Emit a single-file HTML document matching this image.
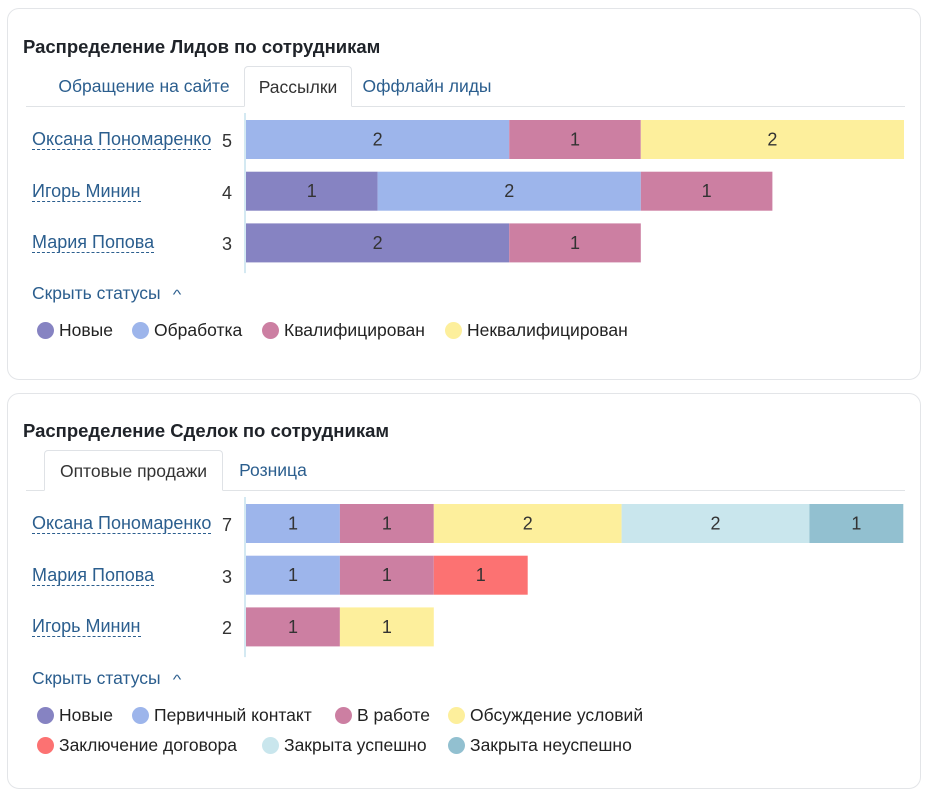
<!DOCTYPE html>
<html><head><meta charset="utf-8">
<style>
body{margin:0;width:935px;height:798px;background:#fff;font-family:"Liberation Sans","DejaVu Sans",sans-serif;position:relative;overflow:hidden}
.card{position:absolute;left:7px;width:912px;border:1px solid #e3e5e8;border-radius:12px;background:#fff}
.abs{position:absolute;white-space:nowrap}
.title{font-size:18.5px;font-weight:bold;color:#1f2329}
.tab{font-size:17.5px;color:#2b5e8e}
.tabact{border:1px solid #dfe2e6;border-bottom:1px solid #fff;border-radius:4px 4px 0 0;background:#fff;color:#333;box-sizing:border-box;text-align:center}
.tabline{height:1px;background:#e0e3e6}
.name{font-size:18px;color:#2b5e8e;border-bottom:1px dashed #2b5e8e;line-height:19px;letter-spacing:0}
.total{font-size:18px;color:#333}
.toggle{font-size:17.5px;color:#2b5e8e}
.leg{font-size:17.5px;color:#222;display:flex;align-items:center}
.dot{width:17px;height:17px;border-radius:50%;margin-right:5px;display:inline-block}
</style></head><body>
<div class="card" style="top:8px;height:370px"></div>
<div class="card" style="top:393px;height:394px"></div>
<div id="root"></div>
<script>
const colors={new:"#8683c2",proc:"#9db5eb",work:"#cc7fa2",neg:"#fdef9c",contract:"#fc7272",ok:"#c9e6ed",fail:"#92c0d0"};
// Chart 1 data
const c1Names=["Оксана Пономаренко","Игорь Минин","Мария Попова"];
const c1New=[0,1,2];
const c1Proc=[2,2,0];
const c1Kval=[1,1,1];
const c1Nekval=[2,0,0];
// Chart 2 data
const c2Names=["Оксана Пономаренко","Мария Попова","Игорь Минин"];
const c2New=[0,0,0];
const c2First=[1,1,0];
const c2Work=[1,1,1];
const c2Disc=[2,0,1];
const c2Contract=[0,1,0];
const c2Ok=[2,0,0];
const c2Fail=[1,0,0];

const root=document.getElementById('root');
function div(cls,style,text){const d=document.createElement('div');d.className='abs '+cls;d.setAttribute('style',style);if(text!=null)d.textContent=text;root.appendChild(d);return d;}

function chart(cfg){
  let t=div('title',`left:23px;top:${cfg.top+28}px`,cfg.title);
  
  
  let l=div('tabline',`left:26px;top:${cfg.top+98}px;width:879px`);
  
  
  cfg.tabs.forEach(tb=>{
    let d=div('tab'+(tb.act?' tabact':''),`left:${tb.x}px;top:${cfg.top+58}px;width:${tb.w}px;height:41px;line-height:40px;text-align:center`,tb.t);
    
    
  });
  const ax=245, unit=cfg.unit, rowTop=cfg.top+112, pitch=51.7, bh=39;
  const NS="http://www.w3.org/2000/svg";
  const svg=document.createElementNS(NS,'svg');
  svg.setAttribute('width',935);svg.setAttribute('height',798);
  svg.setAttribute('style','position:absolute;left:0;top:0');
  
  
  root.appendChild(svg);
  const axis=document.createElementNS(NS,'line');
  axis.setAttribute('x1',ax);axis.setAttribute('x2',ax);axis.setAttribute('y1',rowTop-7);axis.setAttribute('y2',rowTop+3*pitch-2);
  axis.setAttribute('stroke','#a9d3e6');axis.setAttribute('stroke-width',1);
  
  
  svg.appendChild(axis);
  cfg.names.forEach((n,i)=>{
    const y=rowTop+i*pitch;
    let nm=div('name',`left:32px;top:${y+10}px`,n);
    
    
    let total=0;cfg.series.forEach(s=>total+=s.v[i]);
    let tt=div('total',`left:222px;top:${y+11}px`,String(total));
    
    
    let x=ax+1;
    cfg.series.forEach(s=>{
      const v=s.v[i]; if(!v) return;
      const w=v*unit;
      const r=document.createElementNS(NS,'rect');
      r.setAttribute('x',x);r.setAttribute('y',y);r.setAttribute('width',w);r.setAttribute('height',bh);r.setAttribute('fill',s.c);
      
      
      svg.appendChild(r);
      const tx=document.createElementNS(NS,'text');
      tx.setAttribute('x',x+w/2);tx.setAttribute('y',y+bh/2+6);tx.setAttribute('text-anchor','middle');
      tx.setAttribute('font-size','18');tx.setAttribute('fill','#333');tx.setAttribute('font-family','Liberation Sans, sans-serif');
      tx.textContent=v;
      
      
      svg.appendChild(tx);
      x+=w;
    });
  });
  let tg=div('toggle',`left:32px;top:${cfg.toggleY-11}px`);
  tg.innerHTML='Скрыть статусы <span style="display:inline-block;margin-left:9px;font-size:13px;transform:scaleX(1.4)">^</span>';
  
  
  cfg.legend.forEach(lg=>{
    let d=div('leg',`left:${lg.x}px;top:${lg.y-10}px;height:20px`);
    d.innerHTML=`<span class="dot" style="background:${lg.c}"></span>${lg.t}`;
    
    
  });
}

chart({top:8,title:"Распределение Лидов по сотрудникам",unit:131.6,
 tabs:[{t:"Обращение на сайте",x:44,w:200},{t:"Рассылки",x:244,w:108,act:1},{t:"Оффлайн лиды",x:352,w:150}],
 names:c1Names,
 series:[{v:c1New,c:colors.new},{v:c1Proc,c:colors.proc},{v:c1Kval,c:colors.work},{v:c1Nekval,c:colors.neg}],
 toggleY:294,
 legend:[{t:"Новые",c:colors.new,x:37,y:330},{t:"Обработка",c:colors.proc,x:132,y:330},{t:"Квалифицирован",c:colors.work,x:262,y:330},{t:"Неквалифицирован",c:colors.neg,x:445,y:330}]
});
chart({top:392,title:"Распределение Сделок по сотрудникам",unit:93.9,
 tabs:[{t:"Оптовые продажи",x:44,w:179,act:1},{t:"Розница",x:223,w:100}],
 names:c2Names,
 series:[{v:c2New,c:colors.new},{v:c2First,c:colors.proc},{v:c2Work,c:colors.work},{v:c2Disc,c:colors.neg},{v:c2Contract,c:colors.contract},{v:c2Ok,c:colors.ok},{v:c2Fail,c:colors.fail}],
 toggleY:679,
 legend:[{t:"Новые",c:colors.new,x:37,y:715},{t:"Первичный контакт",c:colors.proc,x:132,y:715},{t:"В работе",c:colors.work,x:335,y:715},{t:"Обсуждение условий",c:colors.neg,x:448,y:715},
 {t:"Заключение договора",c:colors.contract,x:37,y:745},{t:"Закрыта успешно",c:colors.ok,x:262,y:745},{t:"Закрыта неуспешно",c:colors.fail,x:448,y:745}]
});
</script>
</body></html>
